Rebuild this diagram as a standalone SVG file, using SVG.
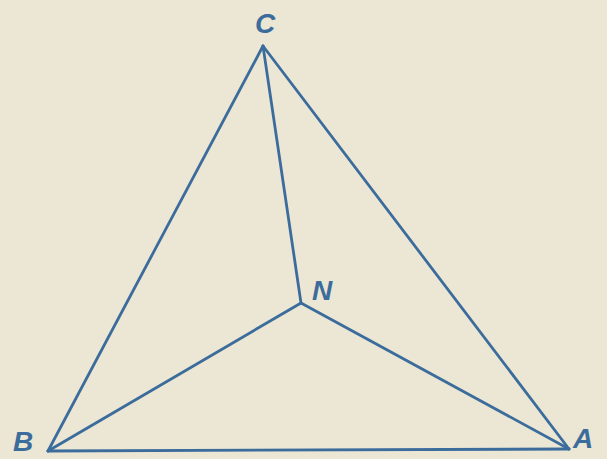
<svg xmlns="http://www.w3.org/2000/svg" width="607" height="459" viewBox="0 0 607 459">
<style>
.e{stroke:#3b6c9c;stroke-width:2.8;fill:none;stroke-linecap:round;stroke-linejoin:round}
.l{font-family:"Liberation Sans",Arial,sans-serif;font-style:italic;font-weight:bold;font-size:28px;fill:#3b6c9c;text-anchor:middle}
</style>
<rect width="607" height="459" fill="#ece7d4"/>
<g id="connectors">
<line class="e" x1="263" y1="46" x2="48" y2="451"/>
<line class="e" x1="263" y1="46" x2="569" y2="449"/>
<line class="e" x1="48" y1="451" x2="569" y2="449"/>
<line class="e" x1="263" y1="46" x2="301" y2="303"/>
<line class="e" x1="301" y1="303" x2="48" y2="451"/>
<line class="e" x1="301" y1="303" x2="569" y2="449"/>
</g>
<g id="C"><text class="l" x="265" y="33">C</text></g>
<g id="B"><text class="l" x="23" y="451">B</text></g>
<g id="A"><text class="l" x="583" y="448">A</text></g>
<g id="N"><text class="l" x="322" y="300">N</text></g>
</svg>
